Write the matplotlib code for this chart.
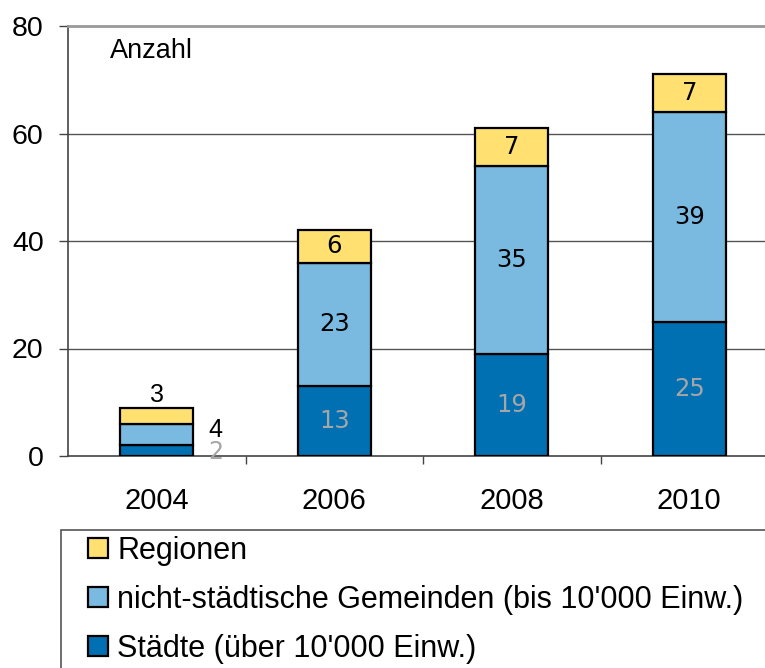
import matplotlib
matplotlib.use("Agg")
import matplotlib.pyplot as plt
from matplotlib.patches import Rectangle
import numpy as np

plt.rcParams['font.family'] = ['Liberation Sans', 'DejaVu Sans']

years = ['2004', '2006', '2008', '2010']
staedte = [2, 13, 19, 25]
gemeinden = [4, 23, 35, 39]
regionen = [3, 6, 7, 7]
names = ['Regionen', "nicht-städtische Gemeinden (bis 10'000 Einw.)",
         "Städte (über 10'000 Einw.)"]

c_reg = '#FFE071'
c_gem = '#7AB9E0'
c_sta = '#0070B2'

fig = plt.figure(figsize=(7.65, 6.68), dpi=100)
W, H = 765., 668.
ax = fig.add_axes([68/W, (H-456)/H, 710/W, 430/H])

x = np.arange(len(years))
bw = 0.41
b1 = ax.bar(x, staedte, bw, color=c_sta, edgecolor='black', linewidth=1.6, zorder=3)
b2 = ax.bar(x, gemeinden, bw, bottom=staedte, color=c_gem, edgecolor='black', linewidth=1.6, zorder=3)
bot2 = np.array(staedte) + np.array(gemeinden)
b3 = ax.bar(x, regionen, bw, bottom=bot2, color=c_reg, edgecolor='black', linewidth=1.6, zorder=3)

ax.set_xlim(-0.5, 3.5)
ax.set_ylim(0, 80)
ax.set_yticks([0, 20, 40, 60, 80])
ax.set_xticks(x)
ax.set_xticklabels(years)
ax.set_xticks([0.5, 1.5, 2.5], minor=True)
ax.tick_params(axis='x', which='major', length=0, pad=22, labelsize=21)
ax.tick_params(axis='x', which='minor', length=6, width=1, color='#444444', direction='out')
ax.tick_params(axis='y', length=6.5, width=1, color='#444444', pad=11, labelsize=20.5)

for v in [20, 40, 60]:
    ax.axhline(v, color='#555555', linewidth=1, zorder=1)
for s in ['left', 'bottom']:
    ax.spines[s].set_color('#444444')
    ax.spines[s].set_linewidth(1.2)
ax.spines['top'].set_color('#999999')
ax.spines['top'].set_linewidth(2)
ax.spines['right'].set_visible(False)

ax.text(0.059, 0.943, 'Anzahl', transform=ax.transAxes, fontsize=19.5, ha='left', va='center')

# labels in the bars
lab = dict(fontsize=17.5, ha='center', va='center', family='DejaVu Sans', zorder=4)
for i in range(1, len(years)):
    ax.text(x[i], staedte[i] / 2, str(staedte[i]), color='#A6A6A6', **lab)
    ax.text(x[i], staedte[i] + gemeinden[i] / 2, str(gemeinden[i]), color='black', **lab)
    ax.text(x[i], bot2[i] + regionen[i] / 2, str(regionen[i]), color='black', **lab)
# 2004: segments too small, labels outside
ax.text(x[0], bot2[0] + regionen[0] + 2.3, str(regionen[0]), color='black', fontsize=18,
        ha='center', va='center', zorder=4)
ax.text(x[0] + 0.33, staedte[0] + gemeinden[0] / 2 + 0.9, str(gemeinden[0]), color='black',
        fontsize=18, ha='center', va='center', zorder=4)
ax.text(x[0] + 0.33, staedte[0] / 2 - 0.2, str(staedte[0]), color='#A6A6A6',
        fontsize=17, ha='center', va='center', family='DejaVu Sans', zorder=4)

# legend box, runs off the figure at the right and bottom
fig.patches.append(Rectangle((61/W, -0.1), 1, (H-530)/H + 0.1, transform=fig.transFigure,
                             fill=False, edgecolor='#555555', linewidth=1.2))
fig.legend([b3, b2, b1], names, loc='upper left', bbox_to_anchor=(88/W, (H-536)/H),
           frameon=False, fontsize=22, handlelength=0.65, handleheight=0.65,
           handletextpad=0.3, labelspacing=0.62, borderaxespad=0, borderpad=0)

fig.savefig('out.png', dpi=100)
